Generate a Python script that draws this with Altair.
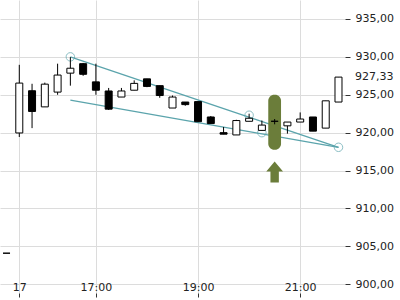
import altair as alt
import pandas as pd

# ---- data ----
idx = list(range(-1, 26))
opens = [904.1, 919.96, 925.53, 923.4, 925.35, 927.85, 929.1, 926.7, 925.5, 924.7, 925.6,
         927.1, 926.2, 923.25, 924.04, 924.1, 922.07, 920.0, 919.7, 921.5, 920.3, 921.5,
         920.9, 921.4, 922.07, 920.6, 924.04]
highs = [904.1, 928.95, 926.45, 926.6, 929.1, 929.96, 929.2, 929.1, 925.9, 925.9, 926.9,
         927.1, 926.2, 924.9, 924.04, 924.1, 922.2, 920.75, 921.7, 922.5, 921.6, 921.8,
         921.4, 922.67, 922.07, 924.2, 927.33]
lows = [904.1, 919.43, 920.6, 923.4, 925.0, 926.2, 927.5, 925.0, 923.0, 924.7, 925.6,
        926.0, 924.6, 923.25, 923.55, 921.45, 921.2, 919.8, 919.7, 921.5, 920.3, 921.1,
        919.87, 921.4, 920.2, 920.6, 924.04]
closes = [904.1, 926.54, 922.8, 926.4, 927.6, 928.5, 927.7, 925.6, 923.1, 925.5, 926.5,
          926.1, 924.9, 924.7, 923.7, 921.45, 921.2, 919.8, 921.6, 921.9, 921.0, 921.5,
          921.4, 921.8, 920.2, 924.2, 927.33]

x_tick_pos = [0, 6, 14, 22]
x_tick_labels = ["17", "17:00", "19:00", "21:00"]
y_ticks = [900, 905, 910, 915, 920, 925, 930, 935]

trend_names = ["upper", "upper", "lower", "lower"]
trend_i = [4, 25, 4, 25]
trend_price = [930.0, 918.07, 924.3, 918.07]

anchor_i = [4, 18, 19, 25]
anchor_price = [930.0, 922.3, 920.0, 918.07]

signal_index = 20
signal_low = 917.76
signal_high = 925.0
arrow_price = 914.8

TEAL = "#5BA4AC"
GREEN = "#6B7D3A"
FONT = "DejaVu Sans"

df = pd.DataFrame(dict(i=idx, open=opens, high=highs, low=lows, close=closes))
trend = pd.DataFrame(dict(line=trend_names, i=trend_i, price=trend_price))
anchors = pd.DataFrame(dict(i=anchor_i, price=anchor_price))
signal = pd.DataFrame(dict(i0=[signal_index - 0.5], i1=[signal_index + 0.5],
                           lo=[signal_low], hi=[signal_high], i=[signal_index],
                           arrow=[arrow_price]))
last = pd.DataFrame(dict(price=[closes[-1]]))

xscale = alt.Scale(domain=[-1.511, 25.51], nice=False, zero=False, padding=0)
yscale = alt.Scale(domain=[898.85, 937.5], nice=False, zero=False, padding=0)

x_expr = " : ".join(f"datum.value == {p} ? '{l}'" for p, l in zip(x_tick_pos, x_tick_labels)) + " : ''"

xaxis = alt.Axis(values=x_tick_pos, labelExpr=x_expr, grid=True, gridColor="#dcdcdc",
                 domain=False, tickSize=4, tickColor="#333", labelPadding=-16,
                 labelFontSize=11, labelFont=FONT, labelColor="#222", title=None,
                 labelAngle=0, labelFlush=False)
yaxis = alt.Axis(orient="right", values=y_ticks,
                 labelExpr="replace(format(datum.value, '.2f'), '.', ',')",
                 grid=True, gridColor="#dcdcdc", domain=False, tickSize=5,
                 tickColor="#333", labelPadding=5, labelFontSize=11, labelFont=FONT,
                 labelColor="#222", title=None)


def X(field):
    return alt.X(field, type="quantitative", scale=xscale, axis=xaxis)


def Y(field):
    return alt.Y(field, type="quantitative", scale=yscale, axis=yaxis)


lines = alt.Chart(trend).mark_line(color=TEAL, strokeWidth=1.3).encode(
    x=X("i"), y=Y("price"), detail="line:N")

circles = alt.Chart(anchors).mark_point(shape="circle", filled=False, size=72,
                                        color=TEAL, strokeWidth=1).encode(
    x=X("i"), y=Y("price"))

capsule = alt.Chart(signal).mark_bar(color=GREEN, cornerRadius=6).encode(
    x=X("i0"), x2="i1", y=Y("lo"), y2="hi")

arrow = alt.Chart(signal).mark_point(
    shape="M0,-1 L0.8,-0.05 L0.4,-0.05 L0.4,1 L-0.4,1 L-0.4,-0.05 L-0.8,-0.05 Z",
    filled=True, size=441, color=GREEN, opacity=1).encode(x=X("i"), y=Y("arrow"))

wicks = alt.Chart(df).mark_rule(color="black", strokeWidth=1).encode(
    x=X("i"), y=Y("low"), y2="high")

bodies = alt.Chart(df).mark_bar(size=7, stroke="black", strokeWidth=1).encode(
    x=X("i"), y=Y("open"), y2="close",
    fill=alt.condition("datum.close >= datum.open", alt.value("white"), alt.value("black")))

last_label = alt.Chart(last).transform_calculate(
    txt="replace(format(datum.price, '.2f'), '.', ',')"
).mark_text(align="left", baseline="middle", fontSize=11, font=FONT, color="#222").encode(
    x=alt.value(355), y=Y("price"), text="txt:N")

chart = alt.layer(lines, circles, capsule, arrow, wicks, bodies, last_label).properties(
    width=345, height=293,
    padding={"left": 0, "top": 0, "right": 55, "bottom": 7},
    autosize=alt.AutoSizeParams(type="none"),
    background="white",
).configure_view(stroke=None)

chart.save("out.html", embed_options={"renderer": "svg", "actions": False})
